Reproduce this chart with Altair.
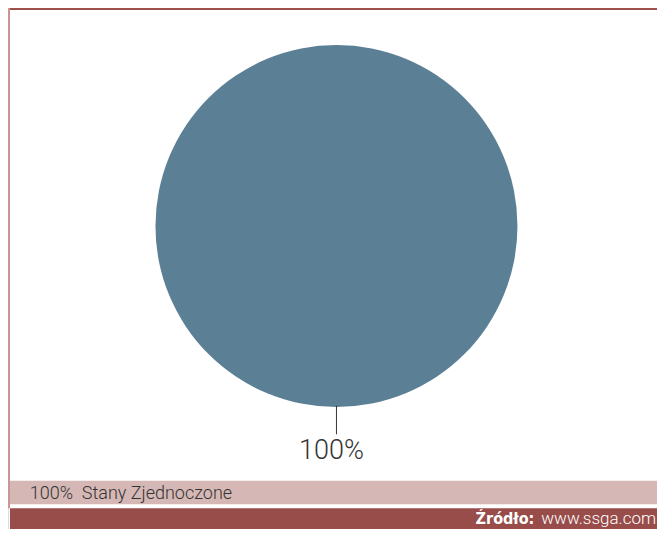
import altair as alt
import pandas as pd

categories = ["Stany Zjednoczone"]
values = [100]
source_label = "Źródło:"
source_url = "www.ssga.com"

df = pd.DataFrame({"category": categories, "value": values})
df["pct"] = df["value"].astype(int).astype(str) + "%"
df["legend"] = df["pct"] + "\u00a0\u00a0" + df["category"]

W, H = 649, 521  # chart size that fits the 665x537 window with 8px margins


def fx(ref):
    return (ref - 9) * W / 656


def fy(ref):
    return (ref - 9) * H / 528


base = alt.Chart(df)
one = alt.Chart(pd.DataFrame({"d": [0]}))

top_line = one.mark_rule(color="#a0504e", strokeWidth=2).encode(
    x=alt.value(fx(9)), x2=alt.value(fx(665)), y=alt.value(fy(10)))
left_line = one.mark_rule(color="#c99593", strokeWidth=2).encode(
    x=alt.value(fx(10)), y=alt.value(fy(9)), y2=alt.value(fy(516)))

legend_band = one.mark_rect(color="#d5b8b5").encode(
    x=alt.value(fx(11)), x2=alt.value(fx(665)),
    y=alt.value(fy(488)), y2=alt.value(fy(512)))
source_band = one.mark_rect(color="#984d4b").encode(
    x=alt.value(fx(11)), x2=alt.value(fx(665)),
    y=alt.value(fy(516)), y2=alt.value(fy(537)))

pie = base.mark_arc(outerRadius=181).encode(
    theta=alt.Theta("value:Q"),
    color=alt.value("#5b7f95"),
    x=alt.value(fx(341)), y=alt.value(fy(230)))

leader = base.mark_rule(color="#333333", strokeWidth=1).encode(
    x=alt.value(fx(341)), y=alt.value(fy(412)), y2=alt.value(fy(441)))

pie_label = base.mark_text(font="Roboto", fontWeight=300, fontSize=27,
                           color="#333333", align="center", baseline="alphabetic").encode(
    text="pct:N", x=alt.value(fx(336)), y=alt.value(fy(466)))

legend_text = base.mark_text(font="Roboto", fontWeight=300, fontSize=18, color="#333333",
                             align="left", baseline="alphabetic").encode(
    text="legend:N", x=alt.value(fx(31)), y=alt.value(fy(507)))

src_df = pd.DataFrame({"a": [source_label], "b": [source_url]})
src_bold = alt.Chart(src_df).mark_text(font="DejaVu Sans Condensed", fontWeight="bold",
                                       fontSize=16, color="white", align="right",
                                       baseline="middle").encode(
    text="a:N", x=alt.value(fx(541)), y=alt.value(fy(527)))
src_url = alt.Chart(src_df).mark_text(font="Roboto", fontWeight=300, fontSize=17,
                                      color="white", align="right", baseline="middle").encode(
    text="b:N", x=alt.value(fx(664)), y=alt.value(fy(527)))

chart = alt.layer(
    legend_band, source_band, top_line, left_line, pie, leader,
    pie_label, legend_text, src_bold, src_url
).properties(
    width=W, height=H,
    autosize=alt.AutoSizeParams(type="none"),
    padding=0,
).configure_view(stroke=None).configure(background="white")

chart.save("out.html", embed_options={"renderer": "svg", "actions": False})
